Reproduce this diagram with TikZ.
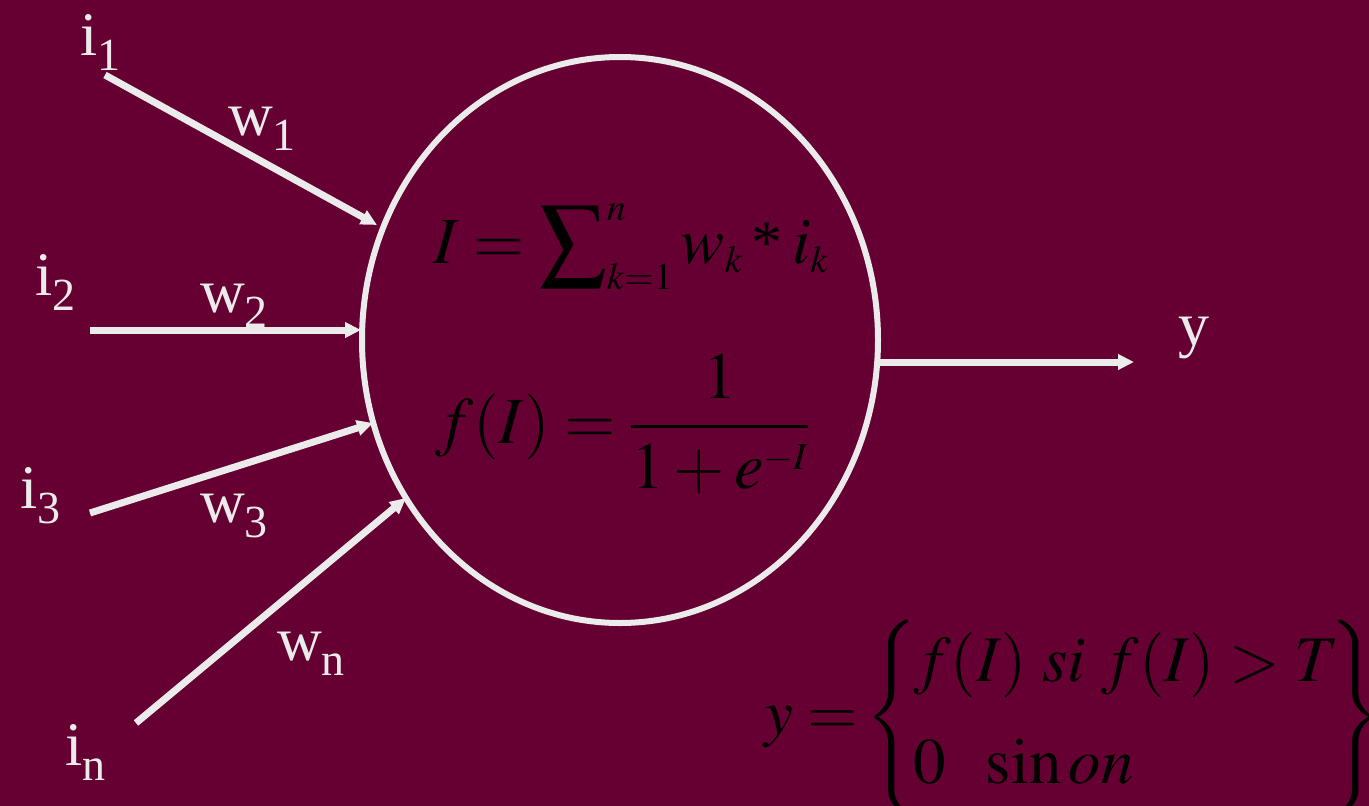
\documentclass[tikz,border=0pt]{standalone}
\usepackage{mathptmx}
\usepackage[no-math]{fontspec}
\setmainfont{Liberation Serif}
\usetikzlibrary{arrows.meta,shapes.geometric}
\definecolor{bg}{RGB}{102,0,51}
\definecolor{fg}{RGB}{235,235,235}
\DeclareMathSizes{66}{66}{38}{30}
\DeclareMathSizes{65}{65}{40}{30}
\newcommand\lbl[2]{#1\raisebox{-15pt}{\fontsize{46}{50}\selectfont #2}}
\newcommand\astx{\mathbin{\mbox{\fontsize{62}{66}\selectfont *}}}
\begin{document}
\begin{tikzpicture}[x=1pt,y=-1pt,
  conn/.style={draw=fg, line width=7pt, -{Triangle[length=16pt,width=15pt]}},
  lab/.style={text=fg, font=\fontsize{62}{70}\selectfont, inner sep=0pt, anchor=base west},
  eq/.style={text=black, inner sep=0pt, anchor=base west}]
\fill[bg] (0,0) rectangle (1369,806);
\useasboundingbox (0,0) rectangle (1369,806);
\node[draw=fg, line width=6pt, ellipse, minimum width=516pt, minimum height=566pt, inner sep=0pt] (neuron) at (620,340) {};
% connector ends
\coordinate (s1) at (105,75);  \coordinate (t1) at (377,225);
\coordinate (s2) at (90,330);  \coordinate (t2) at (361,330);
\coordinate (s3) at (90,513);  \coordinate (t3) at (373,423);
\coordinate (s4) at (136,723); \coordinate (t4) at (406,498);
\coordinate (so) at (878,362); \coordinate (to) at (1134,362);
\draw[conn] (s1) -- (t1);
\draw[conn] (s2) -- (t2);
\draw[conn] (s3) -- (t3);
\draw[conn] (s4) -- (t4);
\draw[conn] (so) -- (to);
% labels
\node[lab] (li1) at (80,55) {\lbl{i}{1}};
\node[lab] (lw1) at (228,135) {\lbl{w}{1}};
\node[lab] (li2) at (35,295) {\lbl{i}{2}};
\node[lab] (lw2) at (200,312) {\lbl{w}{2}};
\node[lab] (li3) at (20,508) {\lbl{i}{3}};
\node[lab] (lw3) at (200,522) {\lbl{w}{3}};
\node[lab] (lin) at (65,765) {\lbl{i}{n}};
\node[lab] (lwn) at (277,660) {\lbl{w}{n}};
\node[lab] (ly) at (1178,345) {y};
% equations
\node[eq, font=\fontsize{66}{78}\selectfont] (eqI) at (433,263)
  {$\displaystyle I=\sum\nolimits_{k=1}^{n} w_k \astx i_k$};
\node[eq, font=\fontsize{66}{78}\selectfont] (eqf) at (435,443)
  {$\displaystyle f(I)=\frac{1}{1+e^{-I}}$};
\node[eq, font=\fontsize{65}{76}\selectfont] (eqy) at (764,734)
  {$y=\mkern-2mu\left\{\begin{array}{@{\hspace{-4pt}}l@{\hspace{-9pt}}} f(I)\ si\ f(I)>T\\[26pt] 0\ \ \sin on\end{array}\right\}$};
\end{tikzpicture}
\end{document}
